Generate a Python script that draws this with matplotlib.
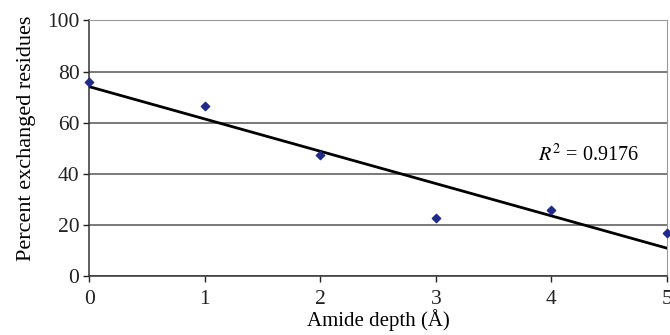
import numpy as np
import matplotlib
matplotlib.use("Agg")
import matplotlib.pyplot as plt

plt.rcParams['font.family'] = ['Liberation Serif', 'DejaVu Serif']

depth = [0, 1, 2, 3, 4, 5]
percent = [76.0, 66.4, 47.3, 22.7, 25.8, 16.8]
y_ticks = [0, 20, 40, 60, 80, 100]
r2_label = "0.9176"

fig = plt.figure(figsize=(6.7, 3.35), dpi=100)
ax = fig.add_axes([0.133, 0.176, 0.8625, 0.763])

# linear trend line
slope, icept = np.polyfit(depth, percent, 1)
xs = np.array([depth[0], depth[-1]])
ax.plot(xs, slope * xs + icept, color="black", lw=2.0, zorder=3)

ax.scatter(depth, percent, marker="D", s=18, color="#1f2a8a", zorder=4, clip_on=False)

ax.set_xlim(0, 5)
ax.set_ylim(0, 100)
ax.set_yticks(y_ticks)
ax.set_xticks(depth)
ax.yaxis.grid(True, color="#555555", lw=1.1)
ax.set_axisbelow(True)

for s in ("top", "right"):
    ax.spines[s].set_color("#999999")
for s in ("left", "bottom"):
    ax.spines[s].set_color("#333333")
    ax.spines[s].set_linewidth(1.1)

ax.tick_params(direction="out", length=4, width=1, labelsize=15.5, colors="#222222")
ax.tick_params(axis="y", pad=3)
ax.tick_params(axis="x", pad=6)

ax.set_xlabel("Amide depth (Å)", fontsize=15, labelpad=0)
ax.set_ylabel("Percent exchanged residues", fontsize=16)
ax.yaxis.set_label_coords(-0.092, 0.54)

ax.text(3.88, 47.5, r"$R^2$ = " + r2_label, fontsize=14.5, va="center", ha="left",
        math_fontfamily="stix")

fig.savefig("out.png", dpi=100)
